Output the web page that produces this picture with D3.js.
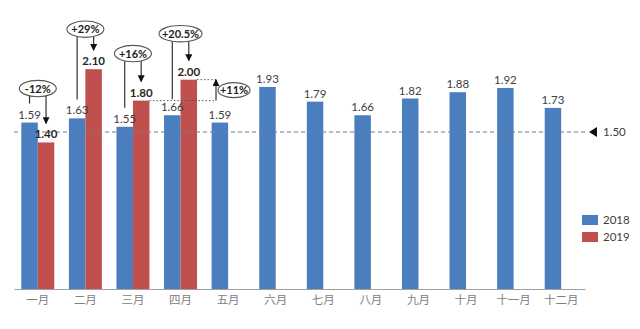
<!DOCTYPE html>
<html>
<head>
<meta charset="utf-8">
<script src="https://cdn.jsdelivr.net/npm/d3@7/dist/d3.min.js"></script>
<style>
html,body{margin:0;padding:0;background:#fff;}
svg{display:block;}
</style>
</head>
<body>
<svg id="chart" width="640" height="329"></svg>
<script>
// ---- data ----
const months = ["一月","二月","三月","四月","五月","六月","七月","八月","九月","十月","十一月","十二月"];
const values2018 = [1.59,1.63,1.55,1.66,1.59,1.93,1.79,1.66,1.82,1.88,1.92,1.73];
const values2019 = [1.40,2.10,1.80,2.00];
const seriesNames = ["2018","2019"];
const changeLabels = ["-12%","+29%","+16%","+20.5%"];
const targetValue = 1.50;
const targetLabel = "1.50";
const stepLabel = "+11%";   // 2019 April vs March
const stepFrom = 1.80, stepTo = 2.00;

// ---- layout ----
const colors = {"2018":"#4a7ebf","2019":"#c0504d"};
const numFont = "Lato, 'Open Sans', 'DejaVu Sans', sans-serif";
const cjkFont = "'Noto Sans CJK SC', 'Noto Sans', sans-serif";
const txt = "#404040";

const svg = d3.select("#chart");

const x = d3.scaleBand().domain(months).range([14, 585])
  .paddingInner(0.307).paddingOuter(0.1535);
const xs = d3.scaleBand().domain(seriesNames).range([0, x.bandwidth()]);
const y = d3.scaleLinear().domain([0, 2.5]).range([289, 289 - 2.5 * 104.67]);

// bars 2018
svg.append("g").selectAll("rect").data(values2018).join("rect")
  .attr("x", (d,i) => x(months[i]) + xs("2018"))
  .attr("y", d => y(d))
  .attr("width", xs.bandwidth())
  .attr("height", d => y(0) - y(d))
  .attr("fill", colors["2018"]);
// bars 2019
svg.append("g").selectAll("rect").data(values2019).join("rect")
  .attr("x", (d,i) => x(months[i]) + xs("2019"))
  .attr("y", d => y(d))
  .attr("width", xs.bandwidth())
  .attr("height", d => y(0) - y(d))
  .attr("fill", colors["2019"]);

// target dashed line
svg.append("line")
  .attr("x1", 14).attr("x2", 588)
  .attr("y1", y(targetValue)).attr("y2", y(targetValue))
  .attr("stroke", "#6e7e93").attr("stroke-width", 1.2)
  .attr("stroke-dasharray", "4,3");
const ty = y(targetValue);
svg.append("path")
  .attr("d", `M589,${ty} L597,${ty-5} L597,${ty+5} Z`)
  .attr("fill", "#111");
svg.append("text").attr("x", 603).attr("y", ty + 4)
  .attr("font-family", numFont).attr("font-size", 11.5).attr("fill", txt)
  .text(targetLabel);

// x axis
const xAxis = d3.axisBottom(x).tickSize(0).tickPadding(7);
const ax = svg.append("g").attr("transform", `translate(0,${y(0)})`).call(xAxis);
ax.select(".domain").attr("stroke", "#a0a0a0").attr("stroke-width", 1.2);
ax.selectAll("text").attr("font-family", cjkFont).attr("font-size", 11.5)
  .attr("fill", "#808080");

// value labels
svg.append("g").selectAll("text").data(values2018).join("text")
  .attr("x", (d,i) => x(months[i]) + xs("2018") + xs.bandwidth()/2)
  .attr("y", d => y(d) - 4)
  .attr("text-anchor", "middle")
  .attr("font-family", numFont).attr("font-size", 11.5).attr("fill", txt)
  .text(d => d.toFixed(2));
svg.append("g").selectAll("text").data(values2019).join("text")
  .attr("x", (d,i) => x(months[i]) + xs("2019") + xs.bandwidth()/2)
  .attr("y", d => y(d) - 4)
  .attr("text-anchor", "middle")
  .attr("font-family", numFont).attr("font-size", 11.5).attr("font-weight", "bold")
  .attr("fill", "#262626")
  .text(d => d.toFixed(2));

// arrowhead marker
const defs = svg.append("defs");
defs.append("marker").attr("id", "ah").attr("viewBox", "0 0 10 10")
  .attr("refX", 9).attr("refY", 5).attr("markerWidth", 7).attr("markerHeight", 7)
  .attr("markerUnits", "userSpaceOnUse").attr("orient", "auto")
  .append("path").attr("d", "M0,0 L10,5 L0,10 Z").attr("fill", "#111");

// change annotations (ellipse above each pair)
const ellipseLift = [34, 40, 47, 46]; // px above the taller bar
const annG = svg.append("g");
changeLabels.forEach((lab, i) => {
  const m = months[i];
  const cx = x(m) + x.bandwidth()/2;
  const top = Math.min(y(values2018[i]), y(values2019[i]));
  const cy = top - ellipseLift[i];
  const rx = lab.length > 4 ? 21.5 : 18.5, ry = 8.2;
  const bx = x(m) + xs("2018") + xs.bandwidth()/2;
  const rxp = x(m) + xs("2019") + xs.bandwidth()/2;
  // left line down to 2018 label
  annG.append("line").attr("x1", bx).attr("x2", bx)
    .attr("y1", cy + ry - 1).attr("y2", y(values2018[i]) - (i===3 ? 16 : 19))
    .attr("stroke", "#333").attr("stroke-width", 1.2);
  // right arrow down to 2019 label
  annG.append("line").attr("x1", rxp).attr("x2", rxp)
    .attr("y1", cy + ry - 1).attr("y2", y(values2019[i]) - 19)
    .attr("stroke", "#333").attr("stroke-width", 1.2)
    .attr("marker-end", "url(#ah)");
  annG.append("ellipse").attr("cx", cx).attr("cy", cy)
    .attr("rx", rx).attr("ry", ry)
    .attr("fill", "#fff").attr("stroke", "#555").attr("stroke-width", 1.1);
  annG.append("text").attr("x", cx).attr("y", cy + 4)
    .attr("text-anchor", "middle")
    .attr("font-family", numFont).attr("font-size", 11).attr("font-weight", "bold")
    .attr("fill", "#222").text(lab);
});

// +11% step annotation
const aprRight = x(months[3]) + xs("2019") + xs.bandwidth();
const marRight = x(months[2]) + xs("2019") + xs.bandwidth();
const arrowX = 216;
svg.append("line").attr("x1", aprRight).attr("x2", arrowX)
  .attr("y1", y(stepTo)).attr("y2", y(stepTo))
  .attr("stroke", "#555").attr("stroke-dasharray", "1.5,2");
svg.append("line").attr("x1", marRight).attr("x2", arrowX)
  .attr("y1", y(stepFrom)).attr("y2", y(stepFrom))
  .attr("stroke", "#555").attr("stroke-dasharray", "1.5,2");
svg.append("line").attr("x1", arrowX).attr("x2", arrowX)
  .attr("y1", y(stepFrom)).attr("y2", y(stepTo))
  .attr("stroke", "#333").attr("stroke-width", 1.2)
  .attr("marker-end", "url(#ah)");
const ey = (y(stepFrom) + y(stepTo)) / 2;
svg.append("ellipse").attr("cx", 234).attr("cy", ey)
  .attr("rx", 16).attr("ry", 7.5)
  .attr("fill", "#fff").attr("stroke", "#555").attr("stroke-width", 1.1);
svg.append("text").attr("x", 234).attr("y", ey + 4).attr("text-anchor", "middle")
  .attr("font-family", numFont).attr("font-size", 11).attr("font-weight", "bold")
  .attr("fill", "#222").text(stepLabel);

// legend
const lg = svg.append("g");
seriesNames.forEach((s, i) => {
  const ly = 215 + i * 17;
  lg.append("rect").attr("x", 582).attr("y", ly).attr("width", 16).attr("height", 10)
    .attr("fill", colors[s]);
  lg.append("text").attr("x", 603).attr("y", ly + 9)
    .attr("font-family", numFont).attr("font-size", 11.5).attr("fill", txt).text(s);
});
</script>
</body>
</html>
